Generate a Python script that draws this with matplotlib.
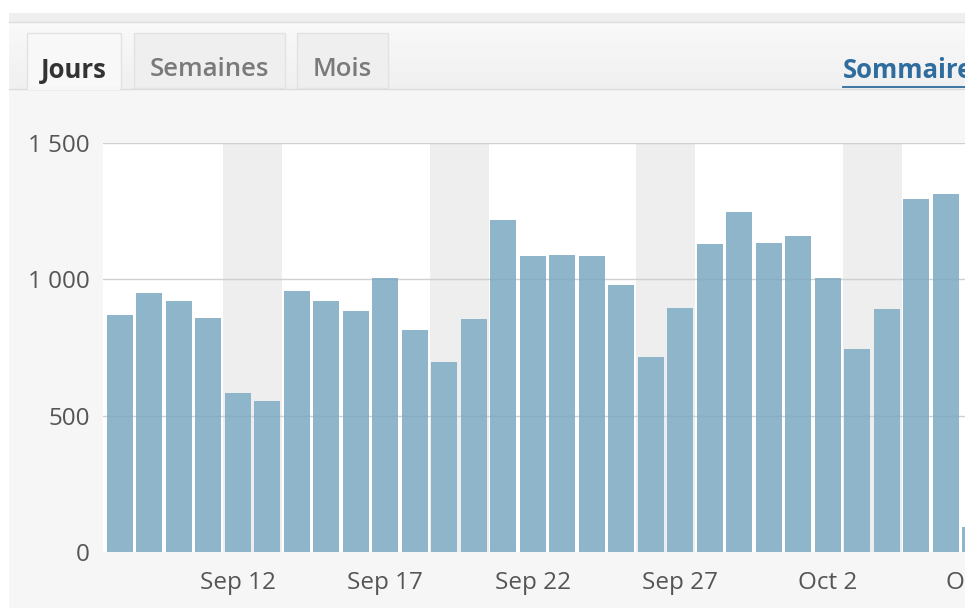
import matplotlib
matplotlib.use("Agg")
import matplotlib.pyplot as plt
from matplotlib.patches import Rectangle
from matplotlib.lines import Line2D

plt.rcParams['font.family'] = ['Open Sans', 'DejaVu Sans']

# ---- data ----
days = ["Sep 8", "Sep 9", "Sep 10", "Sep 11", "Sep 12", "Sep 13", "Sep 14", "Sep 15",
        "Sep 16", "Sep 17", "Sep 18", "Sep 19", "Sep 20", "Sep 21", "Sep 22", "Sep 23",
        "Sep 24", "Sep 25", "Sep 26", "Sep 27", "Sep 28", "Sep 29", "Sep 30", "Oct 1",
        "Oct 2", "Oct 3", "Oct 4", "Oct 5", "Oct 6", "Oct 7"]
views = [868, 949, 920, 859, 582, 554, 959, 920, 884, 1005, 814, 697, 854, 1218, 1086,
         1091, 1086, 981, 714, 895, 1130, 1248, 1132, 1160, 1007, 744, 892, 1295, 1314, 92]
weekend_idx = [4, 5, 11, 12, 18, 19, 25, 26]
xtick_idx = [4, 9, 14, 19, 24, 29]
ytick_vals = [0, 500, 1000, 1500]
ytick_labels = ["0", "500", "1 000", "1 500"]
tabs = ["Jours", "Semaines", "Mois"]
link_text = "Sommaire"

W, H = 965, 608
fig = plt.figure(figsize=(W / 100, H / 100), dpi=100)
fig.patch.set_facecolor('#f6f6f6')


def rect_px(x, y, w, h, **kw):
    """Rectangle in pixel coords measured from the top-left corner."""
    r = Rectangle((x / W, 1 - (y + h) / H), w / W, h / H, transform=fig.transFigure, **kw)
    fig.patches.append(r)
    return r


def hline_px(x0, x1, y, **kw):
    fig.lines.append(Line2D([x0 / W, x1 / W], [1 - y / H, 1 - y / H],
                            transform=fig.transFigure, **kw))


# page decoration
rect_px(0, 0, W, 13, facecolor='white', edgecolor='none', zorder=0)
rect_px(0, 0, 9, H, facecolor='white', edgecolor='none', zorder=0)
rect_px(9, 13, W - 9, 9, facecolor='#efefef', edgecolor='none', zorder=0)
hline_px(9, W, 22, color='#dedede', lw=1.0, zorder=1)
# header band (gradient-ish)
n = 12
for k in range(n):
    c = 0.975 - 0.035 * k / (n - 1)
    rect_px(9, 22 + k * 66 / n, W - 9, 66 / n + 0.5, facecolor=(c, c, c), edgecolor='none', zorder=0)
hline_px(9, W, 88.5, color='#dcdcdc', lw=1.0, zorder=1)

# tabs
tab_boxes = [(27, 121), (134, 285), (297, 388)]
for i, (name, (x0, x1)) in enumerate(zip(tabs, tab_boxes)):
    active = (i == 0)
    fc = '#f8f8f8' if active else '#efefef'
    rect_px(x0, 33, x1 - x0, 56 if active else 55, facecolor=fc, edgecolor='#e2e2e2', lw=1.0, zorder=2)
    if active:
        rect_px(x0 + 0.8, 86, x1 - x0 - 1.6, 4, facecolor='#f6f6f6', edgecolor='none', zorder=3)
    fig.text((x0 + x1) / 2 / W, 1 - 70 / H, name, ha='center', va='center',
             fontsize=18.5, fontweight='bold' if active else 'semibold',
             color='#333333' if active else '#7a7a7a', zorder=4)

# summary link (cut off at the right edge, as in the reference)
fig.text(843 / W, 1 - 71 / H, link_text, ha='left', va='center', fontsize=18.5,
         fontweight='bold', color='#2e6d9e', zorder=4)
hline_px(843, W, 87, color='#2e6d9e', lw=1.3, zorder=4)

# ---- chart ----
pitch = 29.5
left_px = 103
xmin, xmax = -0.568, 29.6
ax_left = left_px / W
ax_w = (xmax - xmin) * pitch / W
y0_px, y1500_px = 551.7, 143.3
ax = fig.add_axes([ax_left, 1 - y0_px / H, ax_w, (y0_px - y1500_px) / H])
ax.set_facecolor('white')
ax.set_xlim(xmin, xmax)
ax.set_ylim(0, 1500)

for i in weekend_idx:
    ax.axvspan(i - 0.5, i + 0.5, color='#eeeeee', lw=0, zorder=0)

x = list(range(len(views)))
ax.bar(x, views, width=0.865, color='#8fb5ca', edgecolor='none', zorder=2)

for v in ytick_vals[1:]:
    ax.axhline(v, color='#d9d9d9', lw=1.0, zorder=1)
    ax.axhline(v, color='black', alpha=0.04, lw=1.0, zorder=3)
ax.axhline(0, color='#d8d8d8', lw=0.8, zorder=1)

for s in ax.spines.values():
    s.set_visible(False)

ax.set_yticks(ytick_vals)
ax.set_yticklabels(ytick_labels)
ax.set_xticks(xtick_idx)
ax.set_xticklabels([days[i] for i in xtick_idx])
ax.tick_params(axis='y', length=0, pad=9.5, labelsize=17.5, labelcolor='#555555')
ax.tick_params(axis='x', length=0, pad=14, labelsize=17.5, labelcolor='#555555')

fig.savefig('out.png', dpi=100, facecolor=fig.get_facecolor())
